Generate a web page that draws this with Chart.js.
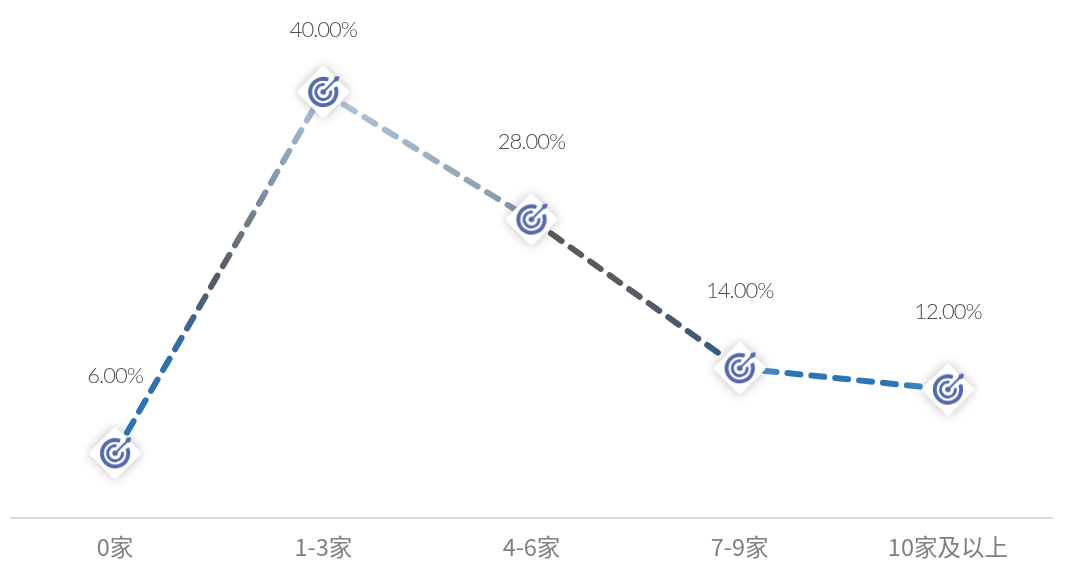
<!DOCTYPE html>
<html>
<head>
<meta charset="utf-8">
<script src="https://cdn.jsdelivr.net/npm/chart.js@4"></script>
<style>
  html, body { margin: 0; background: #fff; }
  canvas { display: block; }
</style>
</head>
<body>
<canvas id="chart" width="1071" height="574"></canvas>
<script>
const categories = ['0家', '1-3家', '4-6家', '7-9家', '10家及以上'];
const shares = [6, 40, 28, 14, 12];
// colour stops along each line segment, from the left point to the right point
const segmentStops = [
  ['#2e75b6', '#2e71ae', '#555a60', '#8497a8', '#b3c6da'],
  ['#b3c6da', '#a9bdd1', '#9db0c2', '#8fa3b5', '#83939f'],
  ['#595959', '#5a5a5a', '#565c63', '#44586c', '#2f6296'],
  ['#6fa0d0', '#2e75b6', '#2e75b6', '#2e75b6', '#5f96cc']
];

const LABEL_FONT = '300 22px Lato, "Noto Sans CJK SC"';

function makeMarker() {
  const size = 80, c = size / 2, r = 15;
  const canvas = document.createElement('canvas');
  canvas.width = size;
  canvas.height = size;
  const g = canvas.getContext('2d');

  // white rounded diamond with a soft shadow
  g.save();
  g.translate(c, c);
  g.rotate(Math.PI / 4);
  g.shadowColor = 'rgba(0, 0, 0, 0.26)';
  g.shadowBlur = 12;
  g.fillStyle = '#fff';
  g.beginPath();
  g.roundRect(-19, -19, 38, 38, 3);
  g.fill();
  g.restore();

  // target
  g.strokeStyle = '#5468ab';
  g.fillStyle = '#5468ab';
  g.lineWidth = 3.8;
  g.beginPath();
  g.arc(c, c, r - 1.8, -Math.PI / 4 + 0.4, -Math.PI / 4 - 0.4 + Math.PI * 2);
  g.stroke();
  g.lineWidth = 3;
  g.beginPath();
  g.arc(c, c, 7.5, -Math.PI / 4 + 0.6, -Math.PI / 4 - 0.6 + Math.PI * 2);
  g.stroke();
  g.beginPath();
  g.arc(c, c, 2.8, 0, Math.PI * 2);
  g.fill();

  // arrow
  g.lineWidth = 2;
  g.beginPath();
  g.moveTo(c, c);
  g.lineTo(c + 12, c - 12);
  g.stroke();
  g.beginPath();
  g.moveTo(c + 10, c - 10);
  g.lineTo(c + 11, c - 15);
  g.lineTo(c + 15, c - 16);
  g.lineTo(c + 16, c - 15);
  g.lineTo(c + 15, c - 11);
  g.closePath();
  g.fill();
  return canvas;
}

function segmentGradient(ctx) {
  const g = ctx.chart.ctx.createLinearGradient(ctx.p0.x, ctx.p0.y, ctx.p1.x, ctx.p1.y);
  const stops = segmentStops[ctx.p0DataIndex];
  stops.forEach((color, i) => g.addColorStop(i / (stops.length - 1), color));
  return g;
}

const valueLabels = {
  id: 'valueLabels',
  afterDatasetsDraw(chart) {
    const g = chart.ctx;
    const points = chart.getDatasetMeta(0).data;
    g.save();
    g.font = LABEL_FONT;
    g.letterSpacing = '-1px';
    g.fillStyle = '#4d4d4d';
    g.textAlign = 'center';
    g.textBaseline = 'middle';
    points.forEach((p, i) => {
      const gap = shares[i] === Math.max(...shares) ? 62 : 77.5;
      g.fillText(shares[i].toFixed(2) + '%', p.x, p.y - gap);
    });
    g.restore();
  }
};

window.addEventListener('load', () => {
  const marker = makeMarker();
  new Chart(document.getElementById('chart'), {
    type: 'line',
    data: {
      labels: categories,
      datasets: [{
        data: shares,
        borderWidth: 6,
        borderDash: [13, 11],
        borderCapStyle: 'round',
        tension: 0,
        fill: false,
        clip: false,
        pointStyle: marker,
        pointRadius: 20,
        segment: { borderColor: segmentGradient }
      }]
    },
    options: {
      responsive: false,
      animation: false,
      layout: { autoPadding: false, padding: { left: 11, right: 19, top: 7, bottom: 0 } },
      plugins: { legend: { display: false }, title: { display: false }, tooltip: { enabled: false } },
      scales: {
        y: { display: false, min: -0.1, max: 48 },
        x: {
          offset: true,
          afterFit: scale => {
            scale.height = 56;
            scale.paddingLeft = 0;
            scale.paddingRight = 0;
          },
          grid: { display: false },
          border: { color: '#d9d9d9', width: 2 },
          ticks: {
            autoSkip: false,
            maxRotation: 0,
            padding: 7,
            color: '#7f7f7f',
            font: { family: '"Noto Sans CJK SC"', size: 23.5 }
          }
        }
      }
    },
    plugins: [valueLabels]
  });
});
</script>
</body>
</html>
